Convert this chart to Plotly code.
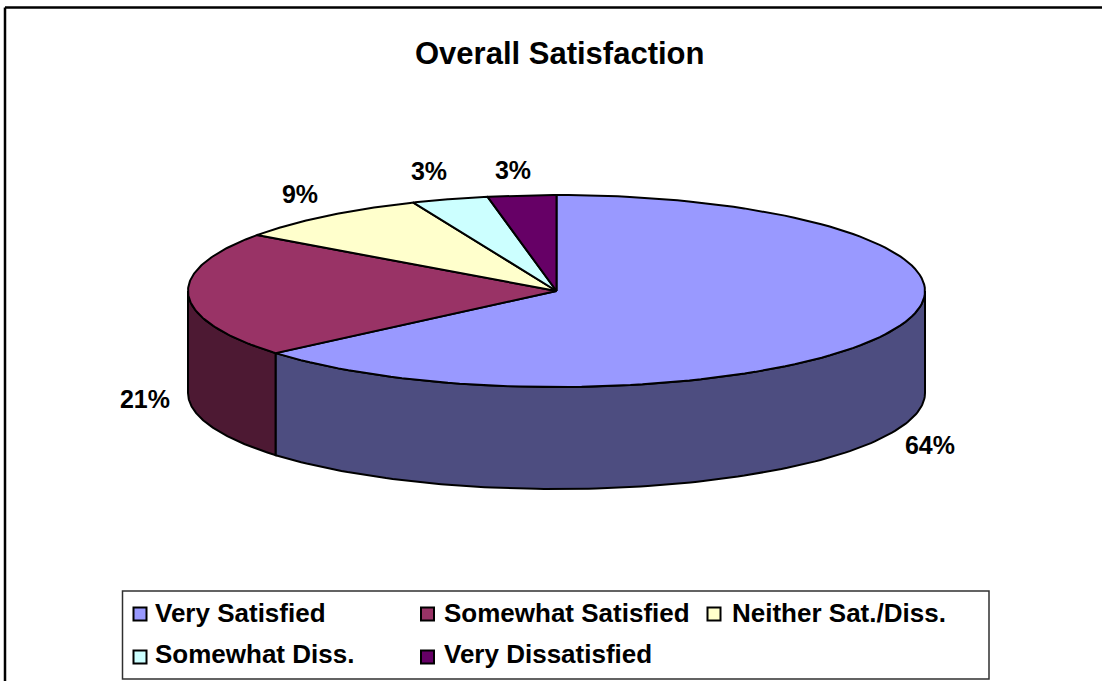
import math
import plotly.graph_objects as go

# ---- data ----
categories = ["Very Satisfied", "Somewhat Satisfied", "Neither Sat./Diss.", "Somewhat Diss.", "Very Dissatisfied"]
values = [63.8, 21.1, 8.75, 3.35, 3.0]
top_colors = ["#9999FF", "#993366", "#FFFFCC", "#CCFFFF", "#660066"]
side_colors = ["#4D4D80", "#4D1933", "#808066", "#668080", "#330033"]
title_text = "Overall Satisfaction"

# ---- layout constants (pixels of the 1102x681 page) ----
W, H = 1102, 681
CX, CY, RX, RY, DEPTH = 556.5, 291, 368.5, 96, 102
FONT = "Liberation Sans, Arial, sans-serif"
LABEL_POS = [(930, 448), (145, 402), (300, 197), (429, 174), (513, 173)]
LEGEND_BOX = (122.5, 591, 989, 679)
SWATCH_POS = [(140, 614), (427.5, 614), (714, 614), (140, 657), (427.5, 657)]
LEGEND_TEXT_POS = [(153, 613), (442, 613), (729.5, 613), (153, 654), (442, 654)]


def rim(a0, a1, dy=0.0, n=120):
    """Ellipse points from clockwise angle a0 to a1 (degrees from 12 o'clock)."""
    xs, ys = [], []
    for i in range(n + 1):
        t = math.radians(a0 + (a1 - a0) * i / n)
        xs.append(CX + RX * math.sin(t))
        ys.append(CY - RY * math.cos(t) + dy)
    return xs, ys


fig = go.Figure()
LINE = dict(color="#000000", width=2)

# cumulative angles from the values
total = sum(values)
edges = [0.0]
for v in values:
    edges.append(edges[-1] + 360.0 * v / total)

# visible outer wall: only the front half of the ellipse
for i in range(len(values)):
    a0, a1 = max(edges[i], 90.0), min(edges[i + 1], 270.0)
    if a1 > a0:
        xt, yt = rim(a0, a1)
        xb, yb = rim(a1, a0, dy=DEPTH)
        fig.add_trace(go.Scatter(
            x=xt + xb + xt[:1], y=yt + yb + yt[:1], mode="lines", fill="toself",
            fillcolor=side_colors[i], line=LINE, hoverinfo="skip", showlegend=False))

# top face
for i, cat in enumerate(categories):
    xt, yt = rim(edges[i], edges[i + 1])
    fig.add_trace(go.Scatter(
        x=[CX] + xt + [CX], y=[CY] + yt + [CY], mode="lines", fill="toself",
        fillcolor=top_colors[i], line=LINE, name=cat, hoverinfo="name", showlegend=False))

# percent labels
fig.add_trace(go.Scatter(
    x=[p[0] for p in LABEL_POS], y=[p[1] for p in LABEL_POS],
    text=[f"<b>{round(v)}%</b>" for v in values], mode="text",
    textfont=dict(family=FONT, size=25, color="#000000"),
    textposition="middle center", hoverinfo="skip", showlegend=False))

# legend swatches
fig.add_trace(go.Scatter(
    x=[p[0] for p in SWATCH_POS], y=[p[1] for p in SWATCH_POS], mode="markers",
    marker=dict(symbol="square", size=13, color=top_colors, line=dict(color="#000000", width=2)),
    hoverinfo="skip", showlegend=False))

annotations = [dict(
    x=p[0], y=p[1], xref="x", yref="y", text=f"<b>{c}</b>", showarrow=False,
    xanchor="left", yanchor="middle", font=dict(family=FONT, size=26, color="#000000"))
    for p, c in zip(LEGEND_TEXT_POS, categories)]
annotations.append(dict(
    x=559.5, y=53, xref="x", yref="y", text=f"<b>{title_text}</b>", showarrow=False,
    xanchor="center", yanchor="middle", font=dict(family=FONT, size=31, color="#000000")))

shapes = [
    dict(type="rect", xref="x", yref="y", x0=LEGEND_BOX[0], y0=LEGEND_BOX[1], x1=LEGEND_BOX[2], y1=LEGEND_BOX[3],
         line=dict(color="#303030", width=1.5), fillcolor="#FFFFFF", layer="below"),
    dict(type="line", xref="x", yref="y", x0=5, y0=7.5, x1=W, y1=7.5, line=dict(color="#000000", width=2.5)),
    dict(type="line", xref="x", yref="y", x0=5, y0=7.5, x1=5, y1=H, line=dict(color="#000000", width=2.5)),
]

fig.update_layout(
    width=W, height=H, margin=dict(l=0, r=0, t=0, b=0),
    paper_bgcolor="#FFFFFF", plot_bgcolor="#FFFFFF",
    xaxis=dict(range=[0, W], visible=False, fixedrange=True),
    yaxis=dict(range=[H, 0], visible=False, fixedrange=True),
    annotations=annotations, shapes=shapes, showlegend=False,
)

fig.write_html("out.html", config={"displayModeBar": False},
               post_script="document.body.style.margin='0';")
